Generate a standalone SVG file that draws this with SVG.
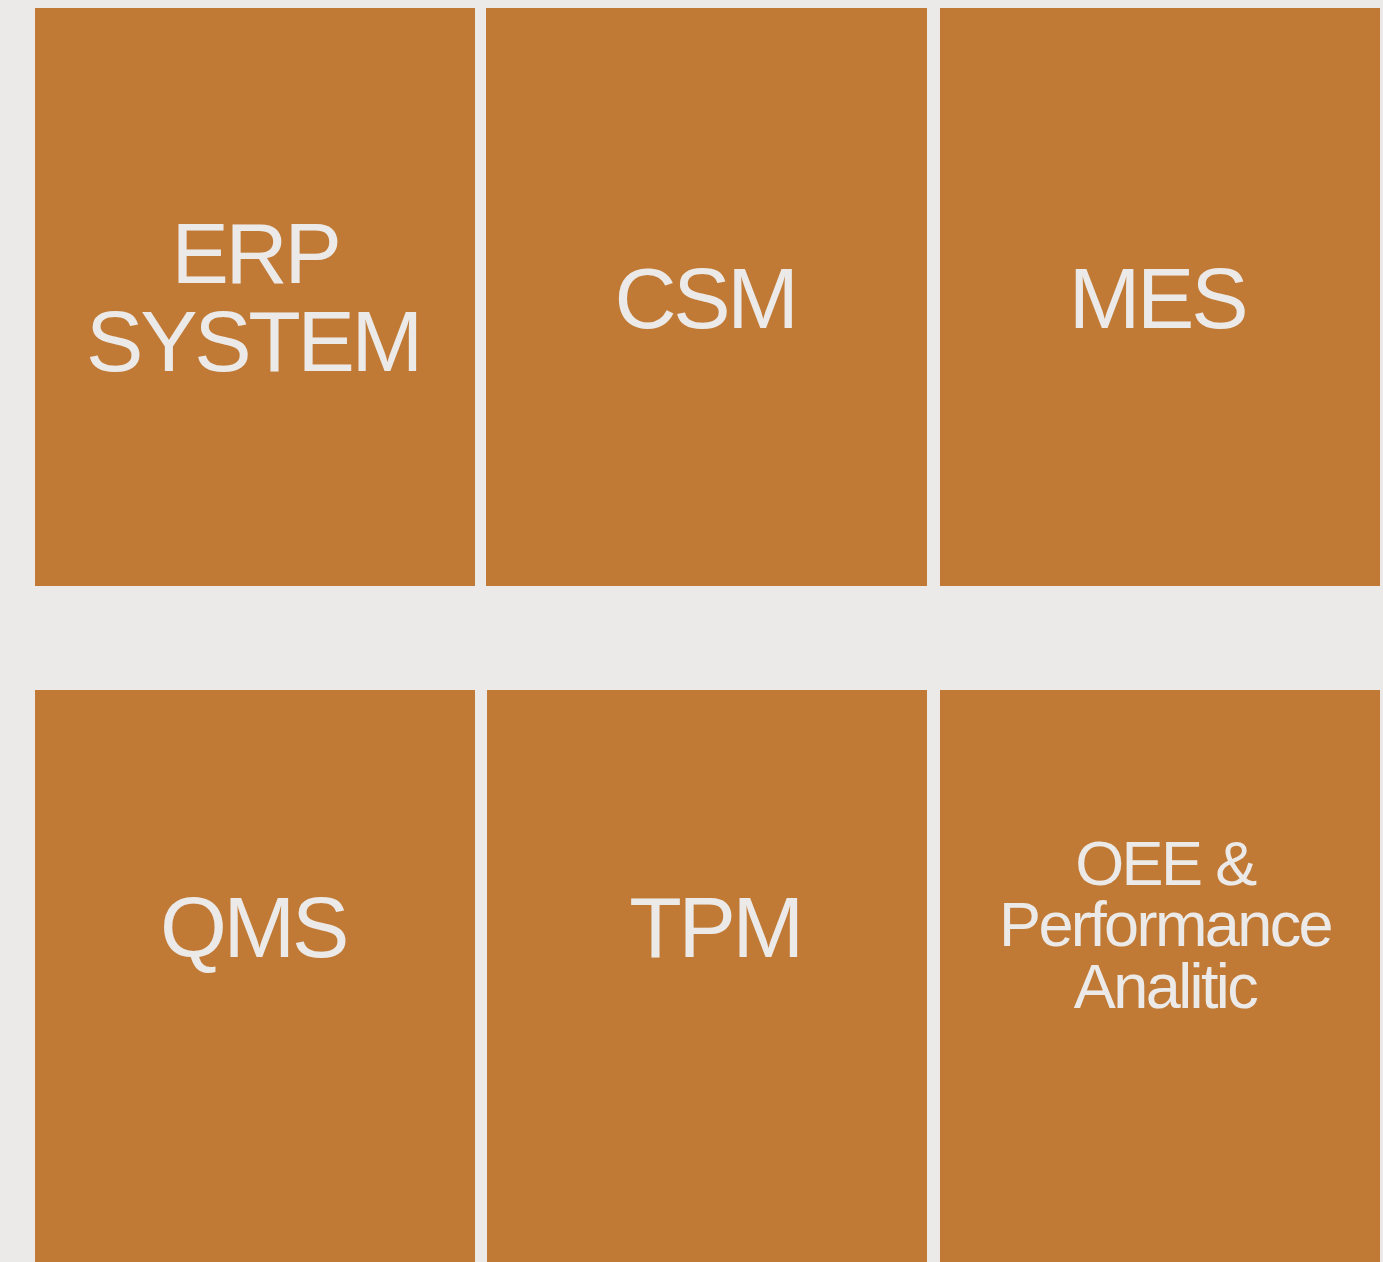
<svg xmlns="http://www.w3.org/2000/svg" width="1383" height="1262" viewBox="0 0 1383 1262">
<style>
.box{fill:#C07A36}
.t{font-family:"Liberation Sans",Arial,sans-serif;fill:#ECEAE8;text-anchor:middle}
.big{font-size:86px;letter-spacing:-3.3px}
.sm{font-size:63px;letter-spacing:-2.6px}
</style>
<rect width="1383" height="1262" fill="#ECEAE8"/>
<g id="erp"><rect class="box" x="35" y="8" width="440" height="578"/>
<text class="t big" x="255" y="283">ERP</text><text class="t big" x="253" y="371">SYSTEM</text></g>
<g id="csm"><rect class="box" x="486" y="8" width="441" height="578"/>
<text class="t big" x="705" y="328">CSM</text></g>
<g id="mes"><rect class="box" x="940" y="8" width="440" height="578"/>
<text class="t big" x="1157" y="328">MES</text></g>
<g id="qms"><rect class="box" x="35" y="690" width="440" height="572"/>
<text class="t big" x="253" y="957">QMS</text></g>
<g id="tpm"><rect class="box" x="487" y="690" width="440" height="572"/>
<text class="t big" x="715" y="957">TPM</text></g>
<g id="oee"><rect class="box" x="940" y="690" width="440" height="572"/>
<text class="t sm" x="1165" y="885">OEE &amp;</text>
<text class="t sm" x="1165" y="946">Performance</text>
<text class="t sm" x="1165" y="1008">Analitic</text></g>
<g id="connectors"/>
</svg>
